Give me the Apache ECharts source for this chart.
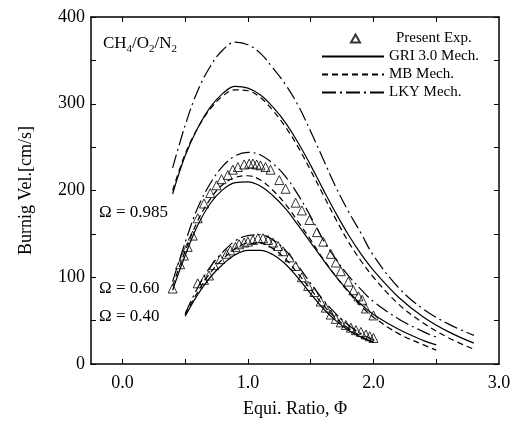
<!DOCTYPE html>
<html lang="en">
<head>
	<meta charset="UTF-8">
	<title>Burning velocity</title>
	<style>
		html,body{margin:0;padding:0;background:#fff;}
		#main{width:523px;height:426px;}
	</style>
	<script src="https://cdn.jsdelivr.net/npm/echarts@6/dist/echarts.min.js"></script>
</head>
<body>
<div id="main"></div>
<script>
// equivalence ratio grids for the computed curves
var phiTop = [0.4,0.5,0.6,0.7,0.8,0.9,1.0,1.1,1.2,1.3,1.4,1.5,1.6,1.7,1.8,1.9,2.0,2.2,2.4,2.6,2.8];
var phiMid = [0.4,0.5,0.6,0.7,0.8,0.9,1.0,1.1,1.2,1.3,1.4,1.5,1.6,1.7,1.8,1.9,2.0,2.2,2.4,2.5];
var phiLow = [0.5,0.6,0.7,0.8,0.9,1.0,1.1,1.2,1.3,1.4,1.5,1.6,1.7,1.8,1.9,2.0];

// Omega = 0.985
var griTop = [196,240,272,296,312,320,318,310,296,278,255,229,201,174,149,127,108,77,54,37,24];
var mbTop  = [200,242,272,294,309,316,315,307,292,273,250,223,195,167,141,119,100,69,47,30,17];
var lkyTop = [226,275,315,343,362,371,368,358,341,322,298,268,236,204,176,151,125,88,63,46,33];

// Omega = 0.60
var griMid = [85,125,160,185,201,209,210,205,194,179,160,140,120,101,84,69,57,40,27,22];
var mbMid  = [90,130,165,190,207,215,217,212,200,184,164,143,121,101,83,67,54,35,22,16];
var lkyMid = [95,140,180,208,228,240,244,241,231,216,195,170,143,121,102,86,72,52,37,31];

// Omega = 0.40
var griLow = [55,80,100,115,126,131,131,126,115,99,81,64,50,39,31,25];
var mbLow  = [57,83,105,121,133,139,139,133,121,104,86,68,53,41,32,25];
var lkyLow = [58,88,112,129,142,148,149,143,131,113,93,74,58,45,35,28];

// experiments
var expMidPhi = [0.40,0.46,0.49,0.52,0.56,0.60,0.65,0.70,0.75,0.79,0.84,0.88,0.92,0.97,1.01,1.04,1.07,1.10,1.14,1.18,1.25,1.30,1.38,1.43,1.49,1.55,1.60,1.66,1.70,1.74,1.80,1.84,1.88,1.91,1.94,2.00];
var expMidV   = [87,115,125,135,148,168,185,197,206,213,218,224,227,230,231,231,230,229,227,224,212,202,186,177,166,152,141,127,117,107,95,85,78,74,64,56];
var expLowPhi = [0.60,0.65,0.69,0.73,0.78,0.83,0.86,0.90,0.93,0.97,1.00,1.04,1.08,1.12,1.16,1.20,1.24,1.28,1.33,1.38,1.43,1.48,1.53,1.58,1.62,1.66,1.70,1.74,1.78,1.82,1.86,1.90,1.94,1.97,2.00];
var expLowV   = [93,97,102,114,121,127,131,135,138,140,141,143,145,145,143,140,136,130,123,113,100,90,83,72,65,57,52,48,45,42,39,37,34,32,30];

var yTicks = [0,100,200,300,400];
var xTicks = [0,1,2,3];

var serif = 'Liberation Serif';

function pairs(xs, ys){
	var out = [];
	for (var i = 0; i < xs.length; i++) out.push([xs[i], ys[i]]);
	return out;
}

function line(name, xs, ys, type){
	return {
		name: name, type: 'line', smooth: 0.4, showSymbol: false, symbol: 'none', symbolSize: 0,
		data: pairs(xs, ys), silent: true,
		lineStyle: {color: '#000', width: 1.2, type: type},
		itemStyle: {color: '#000'},
		z: 2
	};
}
var dashMB = [6,4];
var dashLKY = [14,4,2,4];

function exp(xs, ys){
	return {
		name: 'Present Exp.', type: 'scatter', symbol: 'triangle', symbolSize: 9,
		data: pairs(xs, ys),
		itemStyle: {color: 'rgba(0,0,0,0)', borderColor: '#000', borderWidth: 1},
		z: 3
	};
}

var myChart = echarts.init(document.getElementById('main'));

var option = {
	backgroundColor: '#fff',
	animation: false,
	grid: {left: 91, top: 17, right: 24, bottom: 62},
	legend: [{
		orient: 'vertical', left: 345, top: 26,
		itemWidth: 9, itemHeight: 8,
		data: ['Present Exp.'],
		textStyle: {fontFamily: serif, fontSize: 15, color: '#000', padding: [0,0,0,31]}
	},{
		orient: 'vertical', left: 316, top: 44,
		itemWidth: 62, itemHeight: 10, itemGap: 3,
		data: ['GRI 3.0 Mech.','MB Mech.','LKY Mech.'],
		itemStyle: {color: 'rgba(0,0,0,0)', borderWidth: 0},
		textStyle: {fontFamily: serif, fontSize: 15, color: '#000'}
	}],
	xAxis: [{
		type: 'value', min: -0.25, max: 3,
		name: 'Equi. Ratio, \u03a6', nameLocation: 'middle', nameGap: 36,
		nameTextStyle: {fontFamily: serif, fontSize: 18, color: '#000'},
		axisLine: {onZero: false, lineStyle: {color: '#000', width: 1.5}},
		axisTick: {inside: true, length: 5, customValues: [0,0.5,1,1.5,2,2.5], lineStyle: {color: '#000'}},
		axisLabel: {customValues: xTicks, formatter: function(v){return v.toFixed(1);},
			fontFamily: serif, fontSize: 18, color: '#000', margin: 10},
		splitLine: {show: false}
	},{
		type: 'value', min: -0.25, max: 3, position: 'top',
		axisLine: {onZero: false, lineStyle: {color: '#000', width: 1.5}},
		axisTick: {inside: true, length: 5, customValues: [0,0.5,1,1.5,2,2.5], lineStyle: {color: '#000'}},
		axisLabel: {show: false},
		splitLine: {show: false}
	}],
	yAxis: [{
		type: 'value', min: 0, max: 400, interval: 50,
		name: 'Burnig Vel.[cm/s]', nameLocation: 'middle', nameGap: 56,
		nameTextStyle: {fontFamily: serif, fontSize: 18, color: '#000'},
		axisLine: {show: true, onZero: false, lineStyle: {color: '#000', width: 1.5}},
		axisTick: {show: true, inside: true, length: 5, lineStyle: {color: '#000'}},
		axisLabel: {formatter: function(v){return v % 100 === 0 ? String(v) : '';},
			fontFamily: serif, fontSize: 18, color: '#000', margin: 6},
		splitLine: {show: false}
	},{
		type: 'value', min: 0, max: 400, interval: 50, position: 'right',
		axisLine: {show: true, onZero: false, lineStyle: {color: '#000', width: 1.5}},
		axisTick: {show: true, inside: true, length: 5, lineStyle: {color: '#000'}},
		axisLabel: {show: false},
		splitLine: {show: false}
	}],
	graphic: [{
		type: 'text', left: 103, top: 35,
		style: {
			text: '{a|CH}{s|4}{a|/O}{s|2}{a|/N}{s|2}',
			rich: {
				a: {fontFamily: serif, fontSize: 17, fill: '#000', verticalAlign: 'bottom'},
				s: {fontFamily: serif, fontSize: 11, fill: '#000', verticalAlign: 'bottom', padding: [0,0,-3,0]}
			}
		}
	},{
		type: 'text', left: 99, top: 204,
		style: {text: '\u03a9 = 0.985', fontFamily: serif, fontSize: 17, fill: '#000'}
	},{
		type: 'text', left: 99, top: 280,
		style: {text: '\u03a9 = 0.60', fontFamily: serif, fontSize: 17, fill: '#000'}
	},{
		type: 'text', left: 99, top: 308,
		style: {text: '\u03a9 = 0.40', fontFamily: serif, fontSize: 17, fill: '#000'}
	}],
	series: [
		exp(expMidPhi, expMidV),
		exp(expLowPhi, expLowV),
		line('GRI 3.0 Mech.', phiTop, griTop, 'solid'),
		line('MB Mech.', phiTop, mbTop, dashMB),
		line('LKY Mech.', phiTop, lkyTop, dashLKY),
		line('GRI 3.0 Mech.', phiMid, griMid, 'solid'),
		line('MB Mech.', phiMid, mbMid, dashMB),
		line('LKY Mech.', phiMid, lkyMid, dashLKY),
		line('GRI 3.0 Mech.', phiLow, griLow, 'solid'),
		line('MB Mech.', phiLow, mbLow, dashMB),
		line('LKY Mech.', phiLow, lkyLow, dashLKY)
	]
};

myChart.setOption(option);
</script>
</body>
</html>
